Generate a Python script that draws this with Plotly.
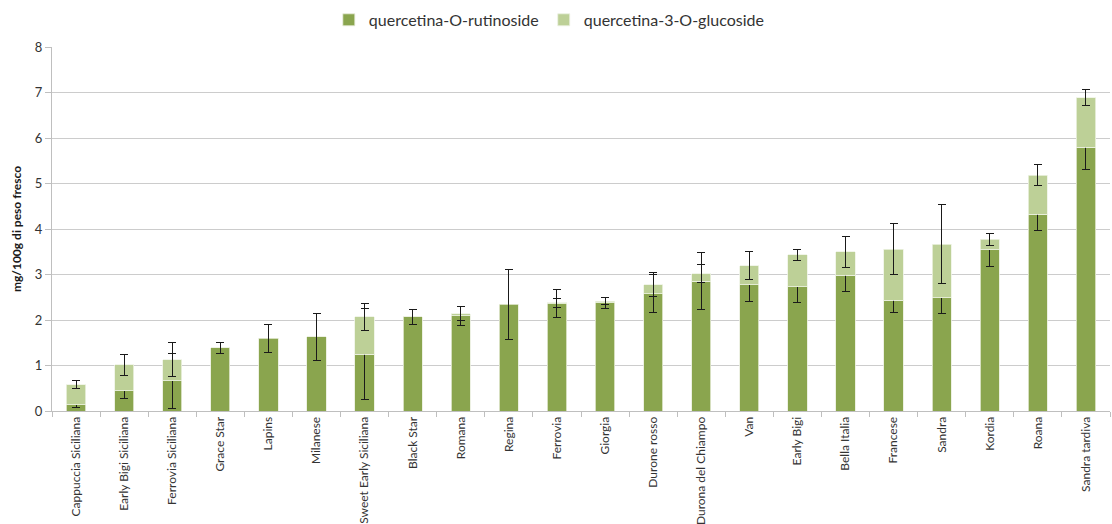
import plotly.graph_objects as go

varieties = [
    "Cappuccia Siciliana", "Early Bigi Siciliana", "Ferrovia Siciliana", "Grace Star",
    "Lapins", "Milanese", "Sweet Early Siciliana", "Black Star", "Romana", "Regina",
    "Ferrovia", "Giorgia", "Durone rosso", "Durona del Chiampo", "Van", "Early Bigi",
    "Bella Italia", "Francese", "Sandra", "Kordia", "Roana", "Sandra tardiva",
]

# mg/100g fresh weight
rutinoside = [0.14, 0.45, 0.66, 1.39, 1.60, 1.63, 1.25, 2.07, 2.09, 2.35,
              2.36, 2.38, 2.58, 2.85, 2.77, 2.73, 2.98, 2.43, 2.49, 3.54, 4.32, 5.80]
rutinoside_sd = [0.06, 0.18, 0.60, 0.12, 0.31, 0.52, 1.00, 0.16, 0.20, 0.77,
                 0.30, 0.12, 0.42, 0.63, 0.36, 0.35, 0.35, 0.26, 0.35, 0.36, 0.35, 0.50]

glucoside = [0.44, 0.57, 0.47, None, None, None, 0.82, None, 0.05, None,
             0.02, 0.03, 0.20, 0.17, 0.42, 0.70, 0.52, 1.13, 1.18, 0.23, 0.86, 1.09]
glucoside_sd = [0.085, 0.23, 0.37, 0, 0, 0, 0.29, 0, 0.15, 0,
                0.10, 0.08, 0.26, 0.19, 0.31, 0.12, 0.34, 0.56, 0.86, 0.13, 0.23, 0.17]

y_ticks = [0, 1, 2, 3, 4, 5, 6, 7, 8]

DARK = "#8aa54e"
LIGHT = "#bdd097"
FONT = "Lato, 'Open Sans', sans-serif"

err_style = dict(type="data", color="#1a1a1a", thickness=1, width=4, visible=True)

fig = go.Figure()
fig.add_trace(go.Bar(
    x=varieties, y=rutinoside, name="quercetina-O-rutinoside",
    marker=dict(color=DARK, line=dict(color="#e8eedc", width=0.8)),
    error_y=dict(array=rutinoside_sd, **err_style),
))
fig.add_trace(go.Bar(
    x=varieties, y=glucoside, name="quercetina-3-O-glucoside",
    marker=dict(color=LIGHT, line=dict(color="#eef3e4", width=0.8)),
    error_y=dict(array=glucoside_sd, **err_style),
))

fig.update_layout(
    width=1112, height=524,
    barmode="stack", bargap=0.6,
    plot_bgcolor="white", paper_bgcolor="white",
    margin=dict(l=52, r=2, t=47, b=113, autoexpand=False),
    font=dict(family=FONT, size=12, color="#333333"),
    legend=dict(orientation="h", xref="container", x=0.494, xanchor="center",
                yref="container", y=0.962, yanchor="middle",
                font=dict(size=16, color="#333333"), itemwidth=30,
                traceorder="normal"),
    xaxis=dict(
        type="category", tickangle=-90, tickfont=dict(size=12, color="#333333"),
        showline=True, linecolor="#bfbfbf", linewidth=1,
        ticks="outside", tickson="boundaries", ticklen=5, tickcolor="#bfbfbf",
        showgrid=False,
    ),
    yaxis=dict(
        range=[0, 8], tickvals=y_ticks, tickfont=dict(size=13, color="#333333"),
        showgrid=True, gridcolor="#cccccc", gridwidth=1,
        showline=True, linecolor="#bfbfbf", linewidth=1,
        ticks="outside", ticklen=6, tickcolor="#bfbfbf",
        zeroline=False,
        title=dict(text="<b>mg/100g di peso fresco</b>", font=dict(size=12, color="#1a1a1a"),
                   standoff=10),
    ),
)

fig.write_html("out.html")
